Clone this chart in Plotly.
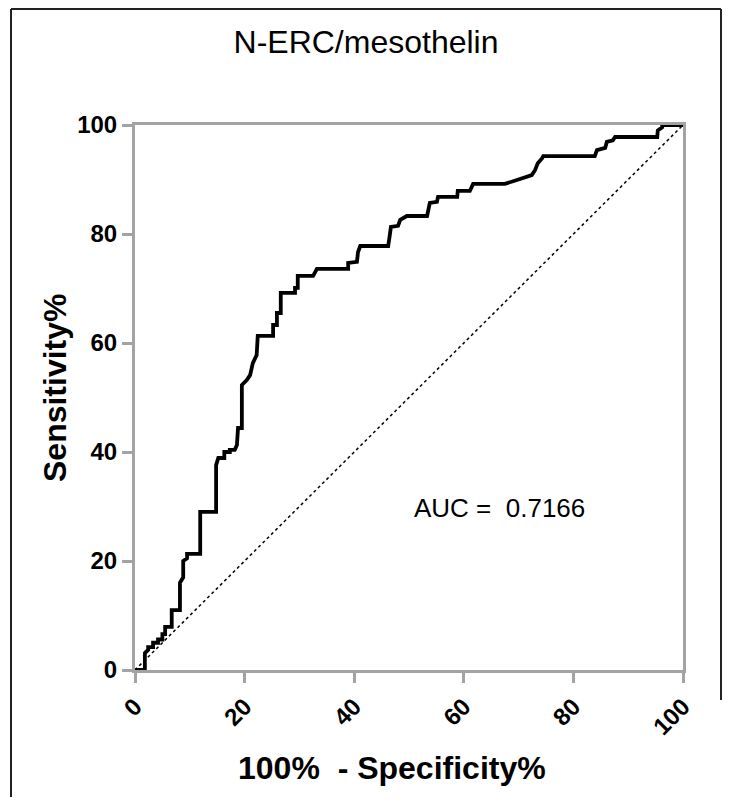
import plotly.graph_objects as go

# ROC curve vertices (100% - specificity, sensitivity)
fpr = [0, 1.8, 1.8, 2.4, 2.4, 3.3, 3.3, 4.2, 4.2, 5.0, 5.0, 5.5, 5.5, 6.7, 6.7, 8.2, 8.2,
       8.6, 8.8, 8.8, 9.5, 9.5, 11.9, 11.9, 14.8, 14.8, 15.2, 16.3, 16.3, 17.3, 17.3, 18.2,
       18.6, 18.8, 19.5, 19.5, 20.4, 21.0, 21.5, 22.2, 22.4, 25.2, 25.2, 25.9, 25.9, 26.6,
       26.6, 29.2, 29.2, 29.7, 29.7, 32.5, 33.2, 38.9, 38.9, 40.5, 40.7, 41.1, 46.2, 46.5,
       46.7, 48.0, 48.4, 49.6, 53.3, 53.8, 55.1, 55.3, 58.8, 58.9, 61.1, 61.7, 67.5, 69.7,
       71.5, 72.4, 73.0, 73.5, 74.3, 74.5, 83.9, 84.3, 85.8, 86.1, 87.2, 87.6, 95.3, 95.4,
       96.2, 96.2, 100]
tpr = [0, 0, 3.1, 3.7, 4.2, 4.2, 5.0, 5.0, 5.6, 5.6, 6.6, 6.6, 7.9, 7.9, 11.0, 11.0, 16.0,
       16.5, 17.0, 20.0, 20.5, 21.3, 21.3, 29.0, 29.0, 37.6, 38.9, 38.9, 40.0, 40.0, 40.4, 40.4,
       41.3, 44.4, 44.4, 52.3, 53.2, 54.1, 56.3, 57.8, 61.3, 61.3, 63.3, 63.3, 65.5, 65.5,
       69.2, 69.2, 70.1, 70.1, 72.3, 72.3, 73.6, 73.6, 74.7, 74.9, 76.7, 77.8, 77.8, 79.8,
       81.3, 81.5, 82.6, 83.3, 83.3, 85.7, 85.9, 86.8, 86.8, 87.9, 87.9, 89.2, 89.2, 89.9,
       90.5, 90.8, 91.7, 93.0, 93.9, 94.3, 94.3, 95.4, 95.8, 96.9, 97.2, 97.8, 97.8, 99.0,
       99.6, 100, 100]
ref_line = [0, 100]
tick_vals = [0, 20, 40, 60, 80, 100]
auc_text = "AUC =  0.7166"

# page has an 8px body margin, so the figure is a bit smaller than the window
OFF = 8
W, H = 714, 789
L, R, T, B = 127, 39, 117, 127


def px(x):
    # page pixel x -> paper fraction
    return (x - OFF - L) / (W - L - R)


def py(y):
    # page pixel y -> paper fraction
    return (H - B - (y - OFF)) / (H - T - B)


fig = go.Figure()
fig.add_trace(go.Scatter(x=ref_line, y=ref_line, mode="lines",
                         line=dict(color="black", width=1.5, dash="dot"),
                         cliponaxis=False, hoverinfo="skip"))
fig.add_trace(go.Scatter(x=fpr, y=tpr, mode="lines",
                         line=dict(color="black", width=3.8),
                         cliponaxis=False))

fig.add_annotation(x=66.6, y=29.7, text=auc_text, showarrow=False,
                   font=dict(family="Liberation Sans", size=26, color="black"))

# axis titles placed as annotations to sit where the original has them
title_font = dict(family="Liberation Sans", size=32, color="black")
fig.add_annotation(x=px(392), y=py(768), xref="paper", yref="paper",
                   text="<b>100%  - Specificity%</b>", showarrow=False,
                   xanchor="center", yanchor="middle", font=title_font)
fig.add_annotation(x=px(55), y=py(388), xref="paper", yref="paper",
                   text="<b>Sensitivity%</b>", showarrow=False, textangle=-90,
                   xanchor="center", yanchor="middle", font=title_font)

axis_common = dict(range=[0, 100], tickvals=tick_vals, showgrid=False, zeroline=False,
                   showline=True, linecolor="#a3a3a3", linewidth=3, mirror=True,
                   ticks="outside", ticklen=10, tickwidth=3, tickcolor="#a3a3a3",
                   tickfont=dict(family="Liberation Sans", size=24, color="black",
                                 weight="bold"))

fig.update_xaxes(**axis_common, tickangle=-45)
fig.update_yaxes(**axis_common)

# outer frame (left, top, right)
frame = dict(type="line", xref="paper", yref="paper", line=dict(color="#222222", width=2))
fig.add_shape(**frame, x0=px(11), y0=py(H + OFF), x1=px(11), y1=py(OFF + 1))
fig.add_shape(**frame, x0=px(11), y0=py(OFF + 1), x1=px(W + OFF - 1), y1=py(OFF + 1))
fig.add_shape(**frame, x0=px(W + OFF - 1), y0=py(OFF + 1), x1=px(W + OFF - 1), y1=py(700))

fig.update_layout(
    title=dict(text="N-ERC/mesothelin", x=(366 - OFF) / W, xref="container",
               xanchor="center", y=1 - (42 - OFF) / H, yanchor="middle",
               font=dict(family="Liberation Sans", size=32, color="black")),
    width=W, height=H,
    margin=dict(l=L, r=R, t=T, b=B),
    paper_bgcolor="white", plot_bgcolor="white",
    showlegend=False,
)

fig.write_html("out.html")
